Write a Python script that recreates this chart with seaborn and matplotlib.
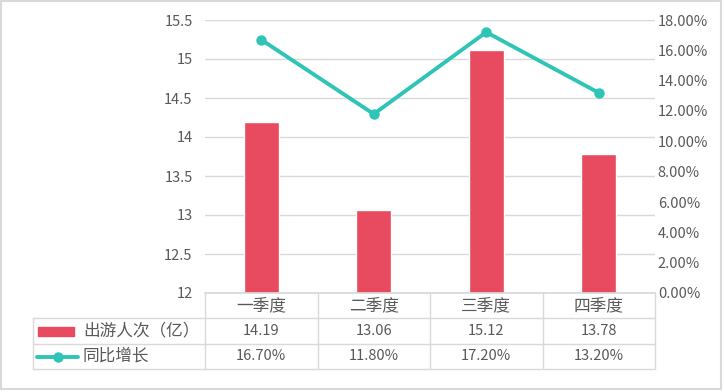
import matplotlib
matplotlib.use('Agg')
import matplotlib.pyplot as plt
from matplotlib.lines import Line2D
from matplotlib.patches import Rectangle
import seaborn as sns
import pandas as pd

# --- Data ---
quarters = ['一季度', '二季度', '三季度', '四季度']
trips = [14.19, 13.06, 15.12, 13.78]          # 出游人次（亿）
growth = [16.70, 11.80, 17.20, 13.20]         # 同比增长 (%)
bar_label = '出游人次（亿）'
line_label = '同比增长'
left_ticks = [12, 12.5, 13, 13.5, 14, 14.5, 15, 15.5]
right_ticks = [0, 2, 4, 6, 8, 10, 12, 14, 16, 18]

bar_color = '#E84A5F'
line_color = '#2EC4B6'
text_color = '#595959'
grid_color = '#D9D9D9'

sns.set_theme(style='white')
plt.rcParams['font.family'] = ['Noto Sans CJK SC', 'DejaVu Sans']

W, H = 724, 392
fig = plt.figure(figsize=(W / 100, H / 100), dpi=100)

def fx(x):
    return x / W

def fy(y):
    return 1 - y / H

# plot area in pixels
x0, x1, ytop, ybot = 205, 655, 20, 293
ax = fig.add_axes([fx(x0), fy(ybot), fx(x1) - fx(x0), fy(ytop) - fy(ybot)])

df = pd.DataFrame({'quarter': quarters, 'trips': trips, 'growth': growth})
sns.barplot(data=df, x='quarter', y='trips', color=bar_color, width=0.31,
            saturation=1, ax=ax)
ax.set_ylim(12, 15.5)
ax.set_xlim(-0.5, 3.5)
ax.set_yticks(left_ticks)
ax.set_yticklabels([f'{t:g}' for t in left_ticks])
ax.yaxis.grid(True, color=grid_color, linewidth=1)
ax.set_axisbelow(True)
ax.set_xlabel('')
ax.set_ylabel('')
ax.set_xticks([])
for s in ['top', 'right', 'left']:
    ax.spines[s].set_visible(False)
ax.spines['bottom'].set_color(grid_color)
ax.tick_params(axis='y', length=0, pad=9, labelsize=10.5, labelcolor=text_color)

ax2 = ax.twinx()
sns.lineplot(x=list(range(len(quarters))), y=growth, ax=ax2, color=line_color,
             linewidth=2.8, marker='o', markersize=7.5, markeredgewidth=0)
ax2.set_ylim(0, 18)
ax2.set_yticks(right_ticks)
ax2.set_yticklabels([f'{t:.2f}%' for t in right_ticks])
ax2.tick_params(axis='y', length=0, pad=2, labelsize=10.5, labelcolor=text_color)
for s in ax2.spines.values():
    s.set_visible(False)
ax2.grid(False)
ax2.set_xlim(-0.5, 3.5)

# --- Data table below the plot ---
tx0 = 33
rows_y = [293, 318, 344, 369]
col_x = [x0 + i * (x1 - x0) / 4 for i in range(5)]

def hline(y, xa, xb):
    fig.add_artist(Line2D([fx(xa), fx(xb)], [fy(y), fy(y)], color=grid_color, lw=1))

def vline(x, ya, yb):
    fig.add_artist(Line2D([fx(x), fx(x)], [fy(ya), fy(yb)], color=grid_color, lw=1))

hline(rows_y[1], tx0, x1)
hline(rows_y[2], tx0, x1)
hline(rows_y[3], tx0, x1)
for cx in col_x:
    vline(cx, rows_y[0], rows_y[3])
vline(tx0, rows_y[1], rows_y[3])

def ymid(i):
    return fy((rows_y[i] + rows_y[i + 1]) / 2)

for i, q in enumerate(quarters):
    cx = fx((col_x[i] + col_x[i + 1]) / 2)
    fig.text(cx, ymid(0), q, ha='center', va='center', fontsize=12, color=text_color)
    fig.text(cx, ymid(1), f'{trips[i]:.2f}', ha='center', va='center', fontsize=10.5, color=text_color)
    fig.text(cx, ymid(2), f'{growth[i]:.2f}%', ha='center', va='center', fontsize=10.5, color=text_color)

# legend keys inside row label cells
fig.add_artist(Rectangle((fx(38), fy(336)), fx(74) - fx(38), fy(327) - fy(336),
                         color=bar_color, transform=fig.transFigure))
fig.add_artist(Line2D([fx(37), fx(78)], [ymid(2), ymid(2)], color=line_color, lw=2.8))
fig.add_artist(Line2D([fx(58)], [ymid(2)], color=line_color, marker='o',
                      markersize=7.5, markeredgewidth=0))
fig.text(fx(83), ymid(1), bar_label, ha='left', va='center', fontsize=12, color=text_color)
fig.text(fx(83), ymid(2), line_label, ha='left', va='center', fontsize=12, color=text_color)

# outer border
fig.add_artist(Rectangle((fx(1), fy(389)), fx(720), fy(1) - fy(389), fill=False,
                         edgecolor='#D9D9D9', lw=1.5, transform=fig.transFigure))

fig.savefig('out.png', dpi=100)
